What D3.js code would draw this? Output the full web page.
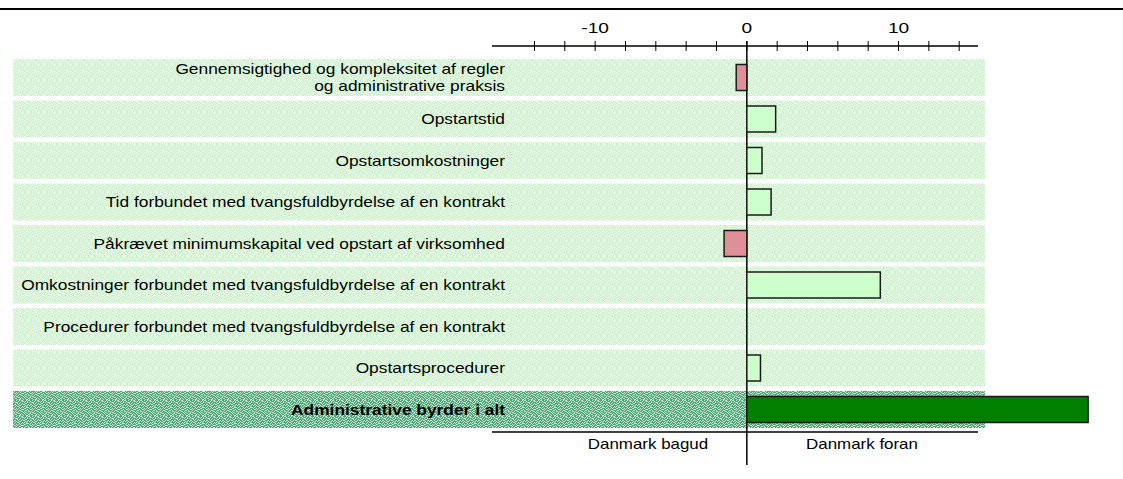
<!DOCTYPE html>
<html>
<head>
<meta charset="utf-8">
<script src="https://cdn.jsdelivr.net/npm/d3@7/dist/d3.min.js"></script>
<style>
  html, body { margin: 0; padding: 0; background: #fff; }
  svg { display: block; font-family: Arial, "Liberation Sans", sans-serif; }
</style>
</head>
<body>
<svg id="chart" width="1123" height="479"></svg>
<script>
// Indicators (top to bottom), the last row is the overall index
const categories = [
  "Gennemsigtighed og kompleksitet af regler\nog administrative praksis",
  "Opstartstid",
  "Opstartsomkostninger",
  "Tid forbundet med tvangsfuldbyrdelse af en kontrakt",
  "Påkrævet minimumskapital ved opstart af virksomhed",
  "Omkostninger forbundet med tvangsfuldbyrdelse af en kontrakt",
  "Procedurer forbundet med tvangsfuldbyrdelse af en kontrakt",
  "Opstartsprocedurer",
  "Administrative byrder i alt"
];
const values = [-0.7, 1.9, 1.0, 1.6, -1.5, 8.8, 0, 0.9, 22.5];
const tickValues = [-14, -12, -10, -8, -6, -4, -2, 0, 2, 4, 6, 8, 10, 12, 14];
const tickLabels = ["-10", "0", "10"];
const sideLabels = ["Danmark bagud", "Danmark foran"];

const svg = d3.select("#chart");
const totalIndex = categories.length - 1;

const x = d3.scaleLinear().domain([-16.8, 15.24]).range([492, 978]);
const y = d3.scaleBand().domain(d3.range(categories.length))
  .range([56.75, 430.25]).paddingInner(0.108).paddingOuter(0.054);

// Speckled fills for the row bands
const defs = svg.append("defs");
function speckle(id, base, light, bits) {
  const n = bits.length;
  const p = defs.append("pattern").attr("id", id)
    .attr("patternUnits", "userSpaceOnUse").attr("width", n).attr("height", n);
  p.append("rect").attr("width", n).attr("height", n).attr("fill", base);
  bits.forEach((row, j) => row.split("").forEach((c, i) => {
    if (c === "1") p.append("rect").attr("x", i).attr("y", j).attr("width", 1).attr("height", 1).attr("fill", light);
  }));
}
const speckBits = [
  "1001011000101100", "0010001101010010", "1100100010010101", "0101001001100000",
  "0010010110001011", "1001100001010100", "0110001010100001", "0001010100111010",
  "1010100011000100", "0100011100010011", "1001100001101000", "0010011010001101",
  "1100000101100010", "0011010010010110", "1000101001001001", "0101100100110100"
];
speckle("bandLight", "#c9f2c9", "#f2fff2", speckBits);
speckle("bandDark", "#4ea578", "#c2e8d0", speckBits);

// Row bands
svg.append("g").selectAll("rect").data(categories).join("rect")
  .attr("x", 13).attr("width", 972)
  .attr("y", (d, i) => y(i)).attr("height", y.bandwidth())
  .attr("fill", (d, i) => i === totalIndex ? "url(#bandDark)" : "url(#bandLight)");

// Top rule
svg.append("line").attr("x1", 0).attr("x2", 1123).attr("y1", 9).attr("y2", 9)
  .attr("stroke", "#000").attr("stroke-width", 2);

// Text drawn with a wide horizontal aspect
function wideText(g, tx, ty, str, size, sx, anchor, weight) {
  return g.append("text")
    .attr("transform", `translate(${tx},${ty}) scale(${sx},1)`)
    .attr("text-anchor", anchor).attr("font-size", size)
    .attr("font-weight", weight || "normal").attr("fill", "#000")
    .text(str);
}

// Top value axis
const axisY = 46;
svg.append("line").attr("x1", x.range()[0]).attr("x2", x.range()[1])
  .attr("y1", axisY).attr("y2", axisY).attr("stroke", "#000").attr("stroke-width", 1.3);
svg.append("g").selectAll("line").data(tickValues).join("line")
  .attr("x1", d => x(d)).attr("x2", d => x(d))
  .attr("y1", axisY - 5).attr("y2", axisY + 5)
  .attr("stroke", "#000").attr("stroke-width", 1);
const tickG = svg.append("g");
tickLabels.forEach(t => wideText(tickG, x(+t), 33, t, 14.5, 1.32, "middle"));

// Zero line
svg.append("line").attr("x1", x(0)).attr("x2", x(0)).attr("y1", axisY - 5).attr("y2", 465)
  .attr("stroke", "#000").attr("stroke-width", 1.5);

// Bars
const barH = 26;
svg.append("g").selectAll("rect").data(values.map((v, i) => ({ v, i })).filter(d => d.v !== 0))
  .join("rect")
  .attr("x", d => x(Math.min(0, d.v)))
  .attr("width", d => Math.abs(x(d.v) - x(0)))
  .attr("y", d => y(d.i) + (y.bandwidth() - barH) / 2)
  .attr("height", barH)
  .attr("fill", d => d.i === totalIndex ? "#007f00" : (d.v < 0 ? "#de8f98" : "#ccffcc"))
  .attr("stroke", "#1a1a1a").attr("stroke-width", 1.5);

// Row labels
const labels = svg.append("g");
categories.forEach((c, i) => {
  const lines = c.split("\n");
  const cy = y(i) + y.bandwidth() / 2;
  lines.forEach((ln, k) => {
    wideText(labels, 505, cy + 5 + (k - (lines.length - 1) / 2) * 17, ln,
      14, 1.24, "end", i === totalIndex ? "bold" : "normal");
  });
});

// Bottom rule with direction labels
svg.append("line").attr("x1", x.range()[0]).attr("x2", x.range()[1])
  .attr("y1", 432).attr("y2", 432).attr("stroke", "#000").attr("stroke-width", 1.3);
wideText(svg, 648, 449, sideLabels[0], 14, 1.21, "middle");
wideText(svg, 862, 449, sideLabels[1], 14, 1.21, "middle");
</script>
</body>
</html>
